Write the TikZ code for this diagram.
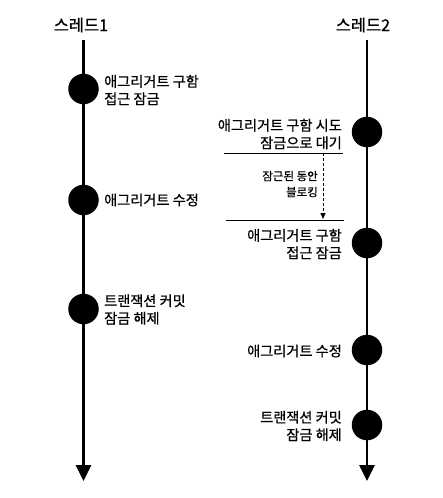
\documentclass[tikz,border=0pt]{standalone}
\usepackage{fontspec}
\setmainfont{Noto Sans CJK KR}[FakeBold=0.6]
\usetikzlibrary{arrows.meta}
\begin{document}
\begin{tikzpicture}[x=1pt,y=-1pt,
  dot/.style={circle,fill=black,minimum size=30.5pt,inner sep=0pt},
  lbl/.style={font=\fontsize{14.2}{17.5}\selectfont,inner sep=0pt},
  lblL/.style={lbl,anchor=west,align=left},
  lblR/.style={lbl,anchor=east,align=right},
  title/.style={font=\fontsize{16.4}{18}\selectfont,inner sep=0pt},
  small/.style={font=\fontsize{11.5}{16}\selectfont,inner sep=0pt,anchor=east,align=right},
  life/.style={line width=2.8pt,-{Triangle[width=15pt,length=16pt]}},
  sep/.style={line width=0.9pt},
  wait/.style={line width=0.8pt,dashed,dash pattern=on 3pt off 2pt,-{Triangle[width=5pt,length=6pt]}}]
\useasboundingbox (0,0) rectangle (443,498);
% titles
\node[title] (t1) at (81,25) {스레드1};
\node[title] (t2) at (363,25) {스레드2};
% lifelines
\coordinate (l1top) at (83.5,40);
\coordinate (l1end) at (83.5,481);
\coordinate (l2top) at (367,40);
\coordinate (l2end) at (367,481);
\draw[life] (l1top) -- (l1end);
\draw[life] (l2top) -- (l2end);
% thread 1 events
\node[dot] (a1) at (83.5,89) {};
\node[dot] (a2) at (83.5,200) {};
\node[dot] (a3) at (83.5,309) {};
\node[lblL] (la1) at (104,90) {애그리거트 구함\\접근 잠금};
\node[lblL] (la2) at (104,200) {애그리거트 수정};
\node[lblL] (la3) at (104,309.5) {트랜잭션 커밋\\잠금 해제};
% thread 2 events
\node[dot] (b1) at (367,132) {};
\node[dot] (b2) at (367,243) {};
\node[dot] (b3) at (367,350) {};
\node[dot] (b4) at (367,425) {};
\node[lblR] (lb1) at (342,134) {애그리거트 구함 시도\\잠금으로 대기};
\node[lblR] (lb2) at (342,244) {애그리거트 구함\\접근 잠금};
\node[lblR] (lb3) at (342,351) {애그리거트 수정};
\node[lblR] (lb4) at (342,426) {트랜잭션 커밋\\잠금 해제};
% blocking interval
\coordinate (s1a) at (224,153);
\coordinate (s1b) at (343,153);
\coordinate (s2a) at (226,220);
\coordinate (s2b) at (344,220);
\coordinate (w1) at (323,153);
\coordinate (w2) at (323,219);
\draw[sep] (s1a) -- (s1b);
\draw[sep] (s2a) -- (s2b);
\draw[wait] (w1) -- (w2);
\node[small] (blk) at (318,184) {잠근된 동안\\블로킹};
\end{tikzpicture}
\end{document}
